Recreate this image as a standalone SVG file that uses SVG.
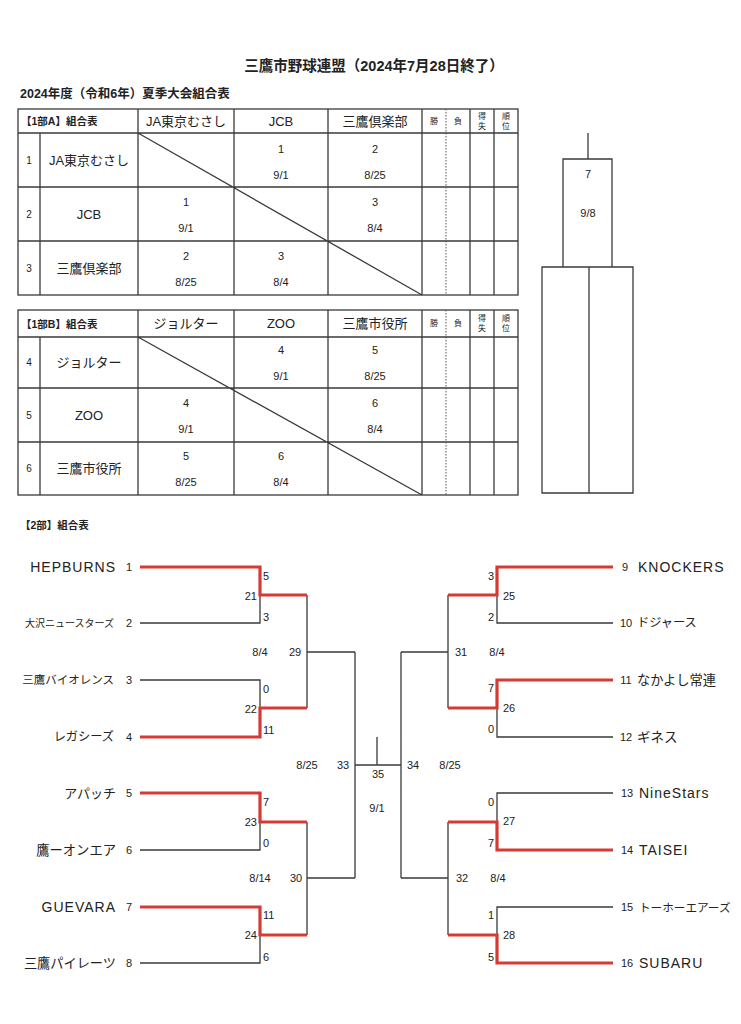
<svg xmlns="http://www.w3.org/2000/svg" width="741" height="1024" viewBox="0 0 741 1024">
<style>
text{font-family:"Liberation Sans","Noto Sans CJK JP",sans-serif;fill:#222;dominant-baseline:central}
.b{font-weight:bold}
.c{text-anchor:middle}
.r{text-anchor:end}
.t{font-size:13px}
.n{font-size:11px}
.s{font-size:10px}
.h{font-size:8px}
.ln{fill:none;stroke:#3a3a3a;stroke-width:1.3}
.rd{fill:none;stroke:#d63a35;stroke-width:3.2}
.dot{stroke:#555;stroke-width:1;stroke-dasharray:1.5 1.5}
.tn{font-size:11px}
.lat{font-size:14px;letter-spacing:1px}
</style>
<rect width="741" height="1024" fill="#fff"/>
<g id="title">
<text x="374" y="66" class="b c" font-size="14.5">三鷹市野球連盟（2024年7月28日終了）</text>
<text x="20" y="94" class="b" font-size="12.5">2024年度（令和6年）夏季大会組合表</text>
</g>
<g id="tableA">
<rect x="18" y="109" width="500" height="186" class="ln"/>
<path class="ln" d="M18 133H518M18 187H518M18 241H518M40 133V295M138 109V295M234 109V295M328 109V295M422 109V295M470 109V295M494 109V295M138 133L422 295"/>
<line x1="446" y1="109" x2="446" y2="295" class="dot"/>
<text x="21" y="121" class="b" font-size="10.5">【1部A】組合表</text>
<text x="186" y="121" class="c t">JA東京むさし</text>
<text x="281" y="121" class="c t">JCB</text>
<text x="375" y="121" class="c t">三鷹倶楽部</text>
<text x="434" y="121" class="c h">勝</text>
<text x="458" y="121" class="c h">負</text>
<text x="482" y="116" class="c h">得</text><text x="482" y="126" class="c h">失</text>
<text x="506" y="116" class="c h">順</text><text x="506" y="126" class="c h">位</text>
<text x="29" y="160" class="c s">1</text><text x="89" y="160" class="c t">JA東京むさし</text>
<text x="29" y="214" class="c s">2</text><text x="89" y="214" class="c t">JCB</text>
<text x="29" y="268" class="c s">3</text><text x="89" y="268" class="c t">三鷹倶楽部</text>
<text x="281" y="149" class="c n">1</text><text x="281" y="175" class="c n">9/1</text>
<text x="375" y="149" class="c n">2</text><text x="375" y="175" class="c n">8/25</text>
<text x="186" y="202" class="c n">1</text><text x="186" y="228" class="c n">9/1</text>
<text x="375" y="202" class="c n">3</text><text x="375" y="228" class="c n">8/4</text>
<text x="186" y="256" class="c n">2</text><text x="186" y="282" class="c n">8/25</text>
<text x="281" y="256" class="c n">3</text><text x="281" y="282" class="c n">8/4</text>
</g>
<g id="tableB">
<rect x="18" y="310" width="500" height="185" class="ln"/>
<path class="ln" d="M18 337H518M18 388H518M18 442H518M40 337V495M138 310V495M234 310V495M328 310V495M422 310V495M470 310V495M494 310V495M138 337L422 495"/>
<line x1="446" y1="310" x2="446" y2="495" class="dot"/>
<text x="21" y="323.5" class="b" font-size="10.5">【1部B】組合表</text>
<text x="186" y="323.5" class="c t">ジョルター</text>
<text x="281" y="323.5" class="c t">ZOO</text>
<text x="375" y="323.5" class="c t">三鷹市役所</text>
<text x="434" y="323.5" class="c h">勝</text>
<text x="458" y="323.5" class="c h">負</text>
<text x="482" y="318" class="c h">得</text><text x="482" y="328" class="c h">失</text>
<text x="506" y="318" class="c h">順</text><text x="506" y="328" class="c h">位</text>
<text x="29" y="362" class="c s">4</text><text x="89" y="362" class="c t">ジョルター</text>
<text x="29" y="415" class="c s">5</text><text x="89" y="415" class="c t">ZOO</text>
<text x="29" y="468" class="c s">6</text><text x="89" y="468" class="c t">三鷹市役所</text>
<text x="281" y="350" class="c n">4</text><text x="281" y="376" class="c n">9/1</text>
<text x="375" y="350" class="c n">5</text><text x="375" y="376" class="c n">8/25</text>
<text x="186" y="403" class="c n">4</text><text x="186" y="429" class="c n">9/1</text>
<text x="375" y="403" class="c n">6</text><text x="375" y="429" class="c n">8/4</text>
<text x="186" y="456" class="c n">5</text><text x="186" y="482" class="c n">8/25</text>
<text x="281" y="456" class="c n">6</text><text x="281" y="482" class="c n">8/4</text>
</g>
<g id="final1">
<path class="ln" d="M588 133V159M563 159H612V267H563ZM542 267H633V493H542ZM589 267V493"/>
<text x="588" y="174" class="c n">7</text>
<text x="588" y="213" class="c n">9/8</text>
</g>
<g id="title2">
<text x="20" y="525" class="b" font-size="10.5">【2部】組合表</text>
</g>
<g id="connectors">
<path class="ln" d="M140 623H260V595M140 680H260V708M140 850H260V822M140 963H260V935M307 595V708M307 652H355M307 822V935M307 878H355M355 652V878M355 765H401M377 737V765"/>
<path class="ln" d="M613 623H497V595M613 737H497V708M613 793H497V822M613 907H497V935M448 595V708M448 652H401M448 822V935M448 878H401M401 652V878"/>
<path class="rd" d="M140 567H260V595H307M140 737H260V708H307M140 793H260V822H307M140 907H260V935H307"/>
<path class="rd" d="M613 567H497V595H448M613 680H497V708H448M613 850H497V822H448M613 963H497V935H448"/>
</g>
<g id="teamsLeft">
<text x="116" y="567" class="r lat">HEPBURNS</text><text x="129" y="567" class="c tn">1</text>
<text x="114" y="623" class="r" font-size="10">大沢ニュースターズ</text><text x="129" y="623" class="c tn">2</text>
<text x="114" y="680" class="r" font-size="11.5">三鷹バイオレンス</text><text x="129" y="680" class="c tn">3</text>
<text x="114" y="737" class="r" font-size="12.2">レガシーズ</text><text x="129" y="737" class="c tn">4</text>
<text x="116" y="793" class="r" font-size="13">アパッチ</text><text x="129" y="793" class="c tn">5</text>
<text x="116" y="850" class="r" font-size="13.3">鷹ーオンエア</text><text x="129" y="850" class="c tn">6</text>
<text x="116" y="907" class="r lat">GUEVARA</text><text x="129" y="907" class="c tn">7</text>
<text x="116" y="963" class="r" font-size="13.2">三鷹パイレーツ</text><text x="129" y="963" class="c tn">8</text>
</g>
<g id="teamsRight">
<text x="625" y="567" class="c tn">9</text><text x="638" y="567" class="lat">KNOCKERS</text>
<text x="626" y="623" class="c tn">10</text><text x="637" y="623" font-size="12.2">ドジャース</text>
<text x="626" y="680" class="c tn">11</text><text x="637" y="680" font-size="13.3">なかよし常連</text>
<text x="626" y="737" class="c tn">12</text><text x="637" y="737" font-size="13.5">ギネス</text>
<text x="627" y="793" class="c tn">13</text><text x="639" y="793" class="lat">NineStars</text>
<text x="627" y="850" class="c tn">14</text><text x="639" y="850" class="lat">TAISEI</text>
<text x="627" y="907" class="c tn">15</text><text x="639" y="907" font-size="11.6">トーホーエアーズ</text>
<text x="627" y="963" class="c tn">16</text><text x="639" y="963" class="lat">SUBARU</text>
</g>
<g id="scoresLeft" class="n">
<text x="263" y="576" class="n">5</text><text x="257" y="596" class="r n">21</text><text x="263" y="617" class="n">3</text>
<text x="263" y="689" class="n">0</text><text x="257" y="709" class="r n">22</text><text x="263" y="730" class="n">11</text>
<text x="263" y="802" class="n">7</text><text x="257" y="822" class="r n">23</text><text x="263" y="843" class="n">0</text>
<text x="263" y="915" class="n">11</text><text x="257" y="935" class="r n">24</text><text x="263" y="957" class="n">6</text>
<text x="260" y="652" class="c n">8/4</text><text x="295" y="652" class="c n">29</text>
<text x="260" y="878" class="c n">8/14</text><text x="296" y="878" class="c n">30</text>
<text x="307" y="765" class="c n">8/25</text><text x="343" y="765" class="c n">33</text>
</g>
<g id="scoresRight">
<text x="494" y="576" class="r n">3</text><text x="503" y="596" class="n">25</text><text x="494" y="617" class="r n">2</text>
<text x="494" y="688" class="r n">7</text><text x="503" y="708" class="n">26</text><text x="494" y="729" class="r n">0</text>
<text x="494" y="802" class="r n">0</text><text x="503" y="821" class="n">27</text><text x="494" y="843" class="r n">7</text>
<text x="494" y="915" class="r n">1</text><text x="503" y="935" class="n">28</text><text x="494" y="957" class="r n">5</text>
<text x="461" y="652" class="c n">31</text><text x="497" y="652" class="c n">8/4</text>
<text x="462" y="878" class="c n">32</text><text x="498" y="878" class="c n">8/4</text>
<text x="413" y="765" class="c n">34</text><text x="450" y="765" class="c n">8/25</text>
</g>
<g id="final2">
<text x="378" y="774" class="c n">35</text>
<text x="377" y="808" class="c n">9/1</text>
</g>
</svg>
